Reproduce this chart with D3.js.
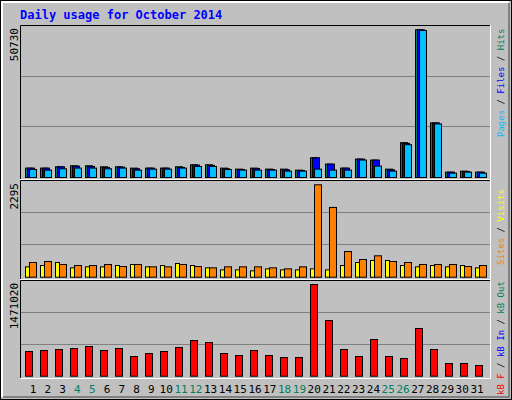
<!DOCTYPE html>
<html><head><meta charset="utf-8">
<script src="https://cdn.jsdelivr.net/npm/d3@7/dist/d3.min.js"></script>
<style>body{margin:0;background:#fff}svg{display:block}</style></head>
<body><svg width="512" height="400"></svg>
<script>
const days = d3.range(1,32);
const weekends = [4,5,11,12,18,19,25,26];
const hits  = [3220,3220,3680,4025,4025,3680,3680,3220,3220,3220,3680,4370,4370,3220,2875,3220,2875,2875,2530,6785,4600,3220,6325,5980,2875,11960,50730,18745,1840,2185,1840];
const files = [3220,3220,3680,3910,3795,3450,3565,2990,3220,3220,3450,4255,4140,2990,2760,3105,2760,2645,2415,6785,4600,3220,6325,5980,2645,11730,50730,18745,1840,2070,1840];
const pages = [2760,2530,2990,3220,3220,2990,3220,2530,2875,2875,3220,3795,3795,2760,2530,2530,2530,2185,2185,2875,2530,2530,5980,3910,2185,11270,50485,18400,1495,1840,1495];
const visits = [257,290,365,232,257,257,290,315,257,290,340,290,232,182,182,158,207,182,182,207,182,290,365,415,415,290,257,290,257,290,232];
const sites  = [365,390,315,290,290,315,265,315,257,257,315,265,232,257,257,257,232,207,257,2295,1733,638,439,531,390,365,315,315,315,265,290];
const kbytes = [395800,411900,427900,444000,476100,411900,444000,315600,363700,395800,460000,572300,540200,363700,331600,411900,331600,299500,299500,1471020,893300,427900,315600,588400,315600,283500,764900,427900,203300,203300,171200];
const maxLabels = ["50730","2295","1471020"];

const svg = d3.select("svg");
const mono = "'DejaVu Sans Mono', monospace";
svg.append("rect").attr("x",0).attr("y",0).attr("width",512).attr("height",400).attr("fill","#c0c0c0");
svg.append("rect").attr("x",0.5).attr("y",0.5).attr("width",511).attr("height",399).attr("fill","none").attr("stroke","#000");
svg.append("path").attr("d","M2,397V2H509").attr("fill","none").attr("stroke","#fff").attr("stroke-width",2);
svg.append("path").attr("d","M3,397H509V3").attr("fill","none").attr("stroke","#808080").attr("stroke-width",2);

svg.append("text").attr("x",20).attr("y",19).attr("fill","#0000ff").attr("font-family",mono)
  .attr("font-weight","bold").attr("font-size",12).text("Daily usage for October 2014");

const x = d3.scaleLinear().domain([1,31]).range([31,481]);
const xl = d3.scaleLinear().domain([1,31]).range([33,477]);

function panel(top,bottom,base,maxVal,maxPx,label){
  svg.append("rect").attr("x",20).attr("y",top).attr("width",471).attr("height",bottom-top).attr("fill","#c0c0c0");
  svg.append("path").attr("d",`M20.5,${bottom}V${top+0.5}H491`).attr("fill","none").attr("stroke","#000");
  svg.append("path").attr("d",`M20,${bottom-0.5}H490.5V${top}`).attr("fill","none").attr("stroke","#fff");
  const y = d3.scaleLinear().domain([0,maxVal]).range([base,maxPx]);
  [1/3,2/3].forEach(f=>{
    const gy = Math.round(base-(base-top)*f)+0.5;
    svg.append("line").attr("x1",21).attr("x2",490).attr("y1",gy).attr("y2",gy).attr("stroke","#808080");
  });
  svg.append("text").attr("transform",`translate(18,${top+3}) rotate(-90)`).attr("text-anchor","end")
    .attr("font-family",mono).attr("font-size",11).attr("fill","#000").text(label);
  return y;
}
function bars(y,data,dx,w,color){
  svg.append("g").selectAll("rect").data(data).join("rect")
    .attr("x",(d,i)=>x(days[i])+dx+0.5).attr("width",w)
    .attr("y",d=>y(d)+0.5).attr("height",d=>y(0)-y(d))
    .attr("fill",color).attr("stroke","#000");
}
const y1 = panel(25,180,177,50730,29.3,maxLabels[0]);
bars(y1,hits,-6,7,"#00805c");
bars(y1,files,-4,7,"#0000ff");
bars(y1,pages,-2,7,"#00c0ff");
const y2 = panel(180,280,276.7,2295,184.3,maxLabels[1]);
bars(y2,visits,-6,4,"#ffff00");
bars(y2,sites,-2,7,"#ff8000");
const y3 = panel(280,379,375.7,1471020,284,maxLabels[2]);
bars(y3,kbytes,-6,7,"#ff0000");

svg.append("g").selectAll("text").data(days).join("text")
  .attr("x",d=>xl(d)).attr("y",393).attr("text-anchor","middle")
  .attr("font-family",mono).attr("font-size",11)
  .attr("fill",d=>weekends.includes(d)?"#00805c":"#000").text(d=>d);

function vlabel(yStart,parts){
  const t = svg.append("text").attr("transform",`translate(504,${yStart}) rotate(-90)`)
    .attr("font-family",mono).attr("font-size",9);
  parts.forEach(p=>t.append("tspan").attr("fill",p[1]).text(p[0]));
}
vlabel(137,[["Pages","#00c0ff"],[" / ","#000"],["Files","#0000ff"],[" / ","#000"],["Hits","#00805c"]]);
vlabel(265,[["Sites","#ff8000"],[" / ","#000"],["Visits","#ffff00"]]);
vlabel(395,[["kB F","#ff0000"],[" / ","#000"],["kB In","#0000ff"],[" / ","#000"],["kB Out","#00805c"]]);
</script></body></html>
